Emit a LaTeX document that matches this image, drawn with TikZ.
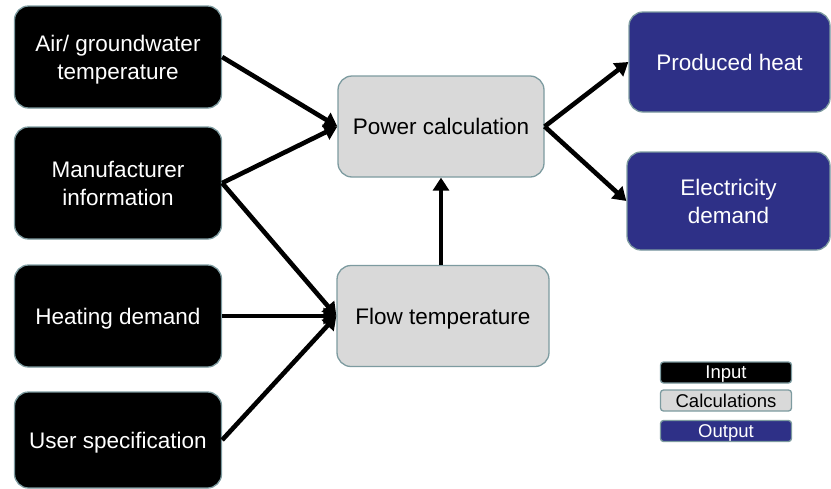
\documentclass[tikz,border=0pt]{standalone}
\usepackage{fontspec}
\setmainfont{Liberation Sans}
\usetikzlibrary{arrows.meta}

\definecolor{boxline}{RGB}{125,155,160}
\definecolor{calcgray}{RGB}{217,217,217}
\definecolor{outnavy}{RGB}{46,48,135}

\begin{document}
\begin{tikzpicture}[x=1pt,y=-1pt,
  box/.style={shape=rectangle,rounded corners=14pt,draw=boxline,line width=1.3pt,align=center,inner sep=0pt,text depth=0pt,font=\fontsize{22.5}{28}\selectfont},
  boxIn/.style={box,fill=black,text=white,minimum width=207pt,minimum height=102pt},
  boxCalc/.style={box,fill=calcgray,text=black},
  boxOut/.style={box,fill=outnavy,text=white,minimum width=201pt,minimum height=100pt},
  key/.style={box,rounded corners=3pt,minimum width=131pt,minimum height=21pt,font=\fontsize{18.5}{20}\selectfont},
  flow/.style={line width=4.6pt,-{Triangle[length=13pt,width=16pt]}}]
\useasboundingbox (0,0) rectangle (831,488);
\def\xin{118};
\def\xcalc{443};

% inputs
\node[boxIn] (air) at (\xin,57) {Air/ groundwater\\temperature};
\node[boxIn,minimum height=112pt] (man) at (\xin,183) {Manufacturer\\information};
\node[boxIn] (heat) at (\xin,316) {Heating demand};
\node[boxIn,minimum height=96pt] (user) at (\xin,440) {User specification};

% calculations
\node[boxCalc,minimum width=206pt,minimum height=101pt] (pow) at (441,126.5) {Power calculation};
\node[boxCalc,minimum width=212pt,minimum height=101pt] (flw) at (\xcalc,316) {Flow temperature};

% outputs
\node[boxOut] (prod) at (729.5,62) {Produced heat};
\node[boxOut,minimum width=203pt,minimum height=98pt] (elec) at (728.5,201) {Electricity\\demand};

% legend
\node[key,fill=black,text=white] (kIn) at (726,372.5) {Input};
\node[key,fill=calcgray] (kCalc) at (726,400.5) {Calculations};
\node[key,fill=outnavy,text=white] (kOut) at (726,431) {Output};

\draw[flow] (air.east) -- (pow.west);
\draw[flow] (man.east) -- (pow.west);
\draw[flow] (man.east) -- (flw.west);
\draw[flow] (heat.east) -- (flw.west);
\draw[flow] (user.east) -- (flw.west);
\draw[flow] (flw.north -| pow.south) -- (pow.south);
\draw[flow] (pow.east) -- (prod.west);
\draw[flow] (pow.east) -- (elec.west);
\end{tikzpicture}
\end{document}
